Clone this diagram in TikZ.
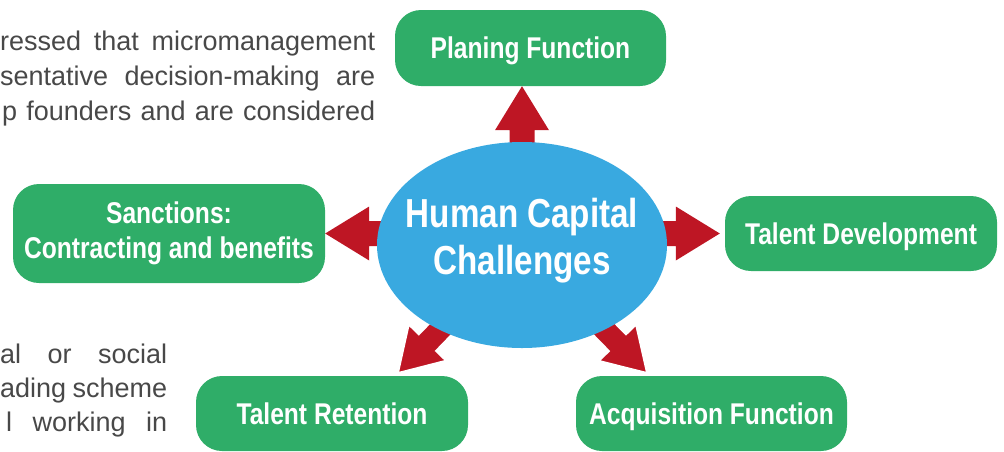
\documentclass[tikz,border=0pt]{standalone}
\usepackage{fontspec}
\setmainfont{Liberation Sans}
\newfontfamily\boxfont[FakeStretch=0.82]{Liberation Sans}
\usetikzlibrary{calc,shapes.geometric,backgrounds}

\definecolor{boxgreen}{RGB}{47,173,104}
\definecolor{hubblue}{RGB}{57,169,224}
\definecolor{arrowred}{RGB}{190,22,36}
\definecolor{bodygray}{RGB}{72,72,72}

% block arrow from #2 to tip #3: shaft 25pt wide, head 54pt wide and 44pt long
\newcommand{\blockarrow}[3][draw=none]{%
  \coordinate (ba-s) at (#2);
  \coordinate (ba-t) at (#3);
  \coordinate (ba-b) at ($(ba-t)!44pt!(ba-s)$);
  \filldraw[fill=arrowred,line join=miter,#1]
    ($(ba-s)!12.5pt!90:(ba-t)$) -- ($(ba-b)!12.5pt!90:(ba-t)$)
    -- ($(ba-b)!27pt!90:(ba-t)$) -- (ba-t) -- ($(ba-b)!27pt!-90:(ba-t)$)
    -- ($(ba-b)!12.5pt!-90:(ba-t)$) -- ($(ba-s)!12.5pt!-90:(ba-t)$) -- cycle;
}

\tikzset{
  topic/.style={fill=boxgreen, rounded corners=26pt, text=white, align=center,
    inner sep=0pt, font=\boxfont\bfseries\fontsize{30}{35}\selectfont},
  oneline/.style={text height=21.5pt, text depth=0pt},
  hub/.style={ellipse, fill=hubblue, inner sep=0pt,
    minimum width=290pt, minimum height=206pt},
  hubtext/.style={text=white, align=center, inner sep=0pt,
    font=\boxfont\bfseries\fontsize{40.5}{47}\selectfont},
  bodyline/.style={anchor=base west, inner sep=0pt, text=bodygray,
    font=\fontsize{27}{34}\selectfont},
  outlined/.style={draw=white, line width=3pt},
}

\begin{document}
\begin{tikzpicture}[x=1pt,y=-1pt]
\useasboundingbox (0,0) rectangle (1004,451);

% running text of the page around the figure
\node[bodyline] (p1) at (0,50)  {\makebox[375pt][s]{ressed that micromanagement}};
\node[bodyline] (p2) at (0,85)  {\makebox[375pt][s]{sentative decision-making are}};
\node[bodyline] (p3) at (2,120) {\makebox[373pt][s]{p founders and are considered}};
\node[bodyline] (q1) at (0,363) {\makebox[167pt][s]{al or social}};
\node[bodyline] (q2) at (0,397) {\makebox[167pt][s]{ading scheme}};
\node[bodyline] (q3) at (6,431) {\makebox[161pt][s]{l working in}};

% topic boxes
\node[topic, oneline, minimum width=271pt, minimum height=76pt] (plan) at (530.5,48) {Planing Function};
\node[topic, minimum width=312pt, minimum height=99pt] (sanc) at (169,233.5) {Sanctions:\\Contracting and benefits};
\node[topic, oneline, minimum width=272pt, minimum height=75pt] (td) at (861,233.5) {Talent Development};
\node[topic, oneline, minimum width=272pt, minimum height=75pt] (ret) at (332,413.5) {Talent Retention};
\node[topic, oneline, minimum width=271pt, minimum height=75pt] (acq) at (711.5,413.5) {Acquisition Function};

% central hub
\node[hub] (hc) at (522,245) {};
\node[hubtext] (hct) at (522,241) {Human Capital\\Challenges};

% arrows behind the hub
\coordinate (rtip) at ([xshift=-5pt]td.west);
\coordinate (bltip) at ([xshift=-71pt,yshift=2pt]ret.north east);
\coordinate (brtip) at ([xshift=72pt,yshift=2pt]acq.north west);
\begin{scope}[on background layer]
  \blockarrow{hc.center}{hc.center |- plan.south}
  \blockarrow{hc.center |- sanc.east}{sanc.east}
  \blockarrow{hc.center |- rtip}{rtip}
  \blockarrow[outlined]{hc.center}{bltip}
  \blockarrow[outlined]{hc.center}{brtip}
\end{scope}
\end{tikzpicture}
\end{document}
